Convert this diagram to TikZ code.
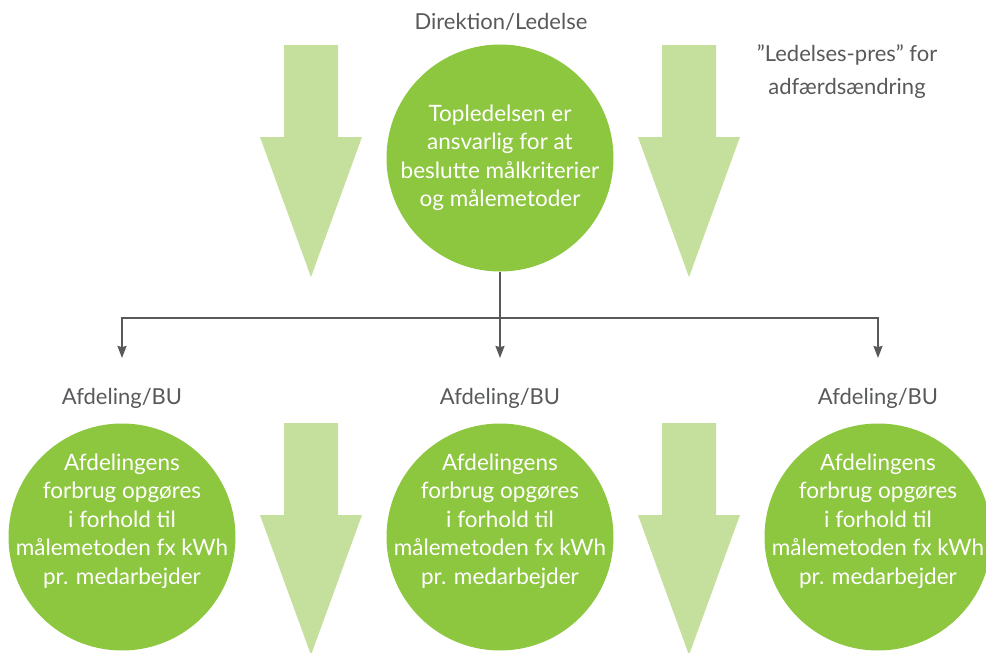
\documentclass[tikz,border=0pt]{standalone}
\usepackage{fontspec}
\setmainfont{Lato}
\usetikzlibrary{arrows.meta}
\definecolor{leafgreen}{HTML}{8DC63F}
\definecolor{palegreen}{HTML}{C5DF9C}
\definecolor{textgray}{HTML}{58595B}

\begin{document}
\begin{tikzpicture}[x=1pt, y=-1pt,
  disc/.style={circle, fill=leafgreen, minimum size=227pt, inner sep=0pt},
  disctext/.style={align=center, text=white, font=\fontsize{22.5}{28.5}\selectfont},
  head/.style={text=textgray, align=center, font=\fontsize{22}{33}\selectfont},
  bigarrow/.style={fill=palegreen},
  arrow/.style={-{Stealth[length=12pt, width=9pt, inset=1pt]}, draw=textgray, line width=1.4pt}
]
\useasboundingbox (0,0) rectangle (986,653);

\foreach \x/\y in {311/45, 689/45, 311/423, 689/423}
  \fill[bigarrow] (\x-27,\y) -- (\x+27,\y) -- (\x+27,\y+92) -- (\x+51,\y+92) -- (\x,\y+232) -- (\x-51,\y+92) -- (\x-27,\y+92) -- cycle;

\node[head] (dir) at (501,22) {Direktion/Ledelse};
\node[head] (pres) at (847,72) {”Ledelses-pres” for\\adfærdsændring};

\node[disc, disctext] (top) at (500,158) {Topledelsen er\\ansvarlig for at\\beslutte målkriterier\\og målemetoder};

\coordinate (split) at (500,318);
\coordinate (e1) at (122,358);
\coordinate (e2) at (500,358);
\coordinate (e3) at (878,358);

\draw[arrow] (top.south) -- (e2);
\draw[arrow] (split) -| (e1);
\draw[arrow] (split) -| (e3);

\foreach \n/\x in {1/122, 2/500, 3/878} {
  \node[head] (bu\n) at (\x,398) {Afdeling/BU};
  \node[disc] (dept\n) at (\x,537) {};
  \node[disctext] (deptxt\n) at ([yshift=16pt]dept\n.center) {Afdelingens\\forbrug opgøres\\i forhold til\\målemetoden fx kWh\\pr. medarbejder};
}

\end{tikzpicture}
\end{document}
